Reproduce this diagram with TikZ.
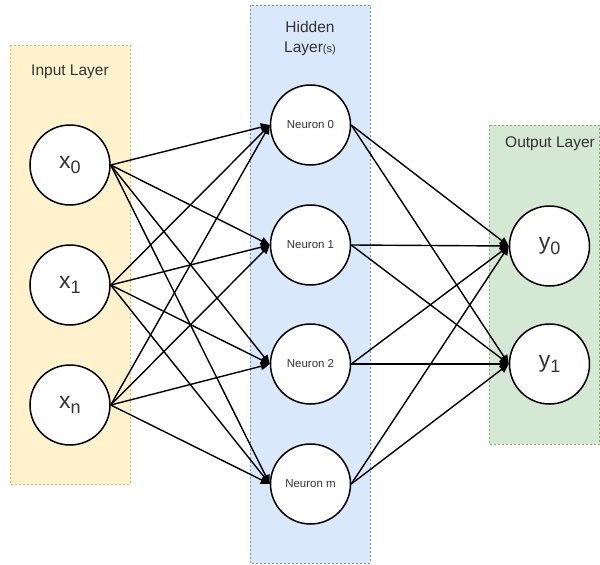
\documentclass[tikz,border=0pt]{standalone}
\usepackage{fontspec}
\setmainfont{Liberation Sans}
\usetikzlibrary{arrows.meta}
\definecolor{ylwfill}{HTML}{FFF2CC}
\definecolor{ylwline}{HTML}{D6B656}
\definecolor{blufill}{HTML}{DAE8FC}
\definecolor{bluline}{HTML}{6C8EBF}
\definecolor{grnfill}{HTML}{D5E8D4}
\definecolor{grnline}{HTML}{82B366}
\definecolor{txt}{HTML}{333333}
\newcommand{\bigsub}[2]{{\fontsize{23}{23}\selectfont #1\raisebox{-0.45ex}{\fontsize{18}{18}\selectfont #2}}}
\tikzset{
  layer/.style={draw, dashed, line width=0.6pt, dash pattern=on 2pt off 2pt},
  neuron/.style={circle, draw=black, fill=white, line width=1.5pt, minimum size=80pt, inner sep=0pt, text=txt},
  hidn/.style={neuron, font=\fontsize{11.5}{12}\selectfont},
  title/.style={text=txt, font=\fontsize{15.5}{20}\selectfont, align=center},
  conn/.style={line width=1.4pt, -{Triangle[length=9pt,width=8pt]}},
  x=1pt, y=-1pt
}
\begin{document}
\begin{tikzpicture}
\useasboundingbox (0,0) rectangle (600,565);
% layer boxes
\draw[layer, draw=ylwline, fill=ylwfill] (10,45) rectangle (130,484);
\draw[layer, draw=bluline, fill=blufill] (250,5) rectangle (370,563);
\draw[layer, draw=grnline, fill=grnfill] (489,125) rectangle (599.5,444);
\node[title] (tin) at (70,72) {Input Layer};
\node[title] (thid) at (310,38) {Hidden\\Layer{\fontsize{11}{11}\selectfont(s)}};
\node[title] (tout) at (550,144) {Output Layer};
% input neurons
\node[neuron] (x0) at (70,165) {\bigsub{x}{0}};
\node[neuron] (x1) at (70,285) {\bigsub{x}{1}};
\node[neuron] (xn) at (70,405) {\bigsub{x}{n}};
% hidden neurons
\node[hidn] (h0) at (310.5,125) {Neuron 0};
\node[hidn] (h1) at (310.5,245) {Neuron 1};
\node[hidn] (h2) at (310.5,364) {Neuron 2};
\node[hidn] (hm) at (310.5,484) {Neuron m};
% output neurons
\node[neuron] (y0) at (549.5,246) {\bigsub{y}{0}};
\node[neuron] (y1) at (549.5,364) {\bigsub{y}{1}};
% connections
\foreach \s in {x0,x1,xn}{
  \foreach \t in {h0,h1,h2,hm}{
    \draw[conn] (\s.east) -- (\t.west);
  }
}
\foreach \s in {h0,h1,h2,hm}{
  \foreach \t in {y0,y1}{
    \draw[conn] (\s.east) -- (\t.west);
  }
}
\end{tikzpicture}
\end{document}
